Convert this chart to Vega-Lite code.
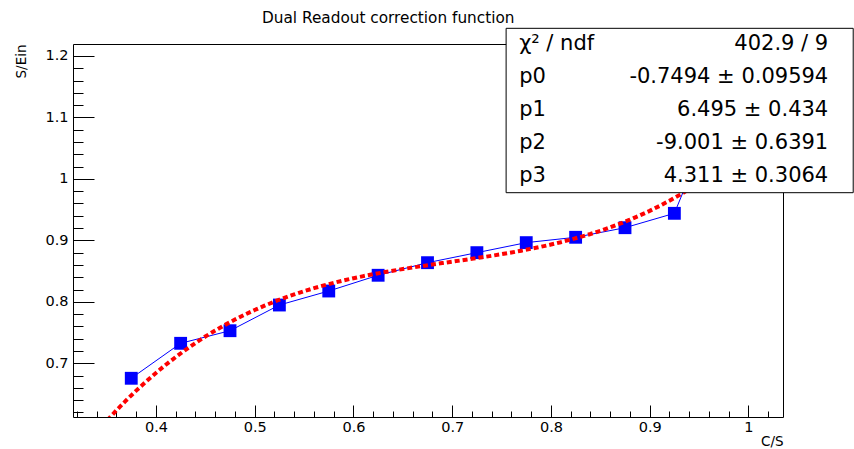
{
  "$schema": "https://vega.github.io/schema/vega-lite/v6.json",
  "width": 710,
  "height": 373,
  "autosize": "none",
  "padding": {"left": 73, "top": 44, "right": 71, "bottom": 32},
  "background": "white",
  "title": {
    "text": "Dual Readout correction function",
    "anchor": "start",
    "frame": "group",
    "dx": 189,
    "dy": 16,
    "offset": 6,
    "baseline": "alphabetic",
    "font": "DejaVu Sans",
    "fontSize": 15.3,
    "fontWeight": "normal",
    "color": "#000"
  },
  "config": {
    "view": {"stroke": "#000", "strokeWidth": 1},
    "font": "DejaVu Sans",
    "axis": {
      "grid": false,
      "domain": false,
      "tickColor": "#000",
      "tickWidth": 1,
      "labelColor": "#000",
      "titleColor": "#000",
      "labelFont": "DejaVu Sans",
      "titleFont": "DejaVu Sans",
      "labelFontSize": 14.5,
      "titleFontSize": 13.5,
      "titleFontWeight": "normal"
    }
  },
  "datasets": {
    "points": [
      {"cs": 0.375, "sein": 0.6756},
      {"cs": 0.425, "sein": 0.7325},
      {"cs": 0.475, "sein": 0.7530},
      {"cs": 0.525, "sein": 0.7948},
      {"cs": 0.575, "sein": 0.8176},
      {"cs": 0.625, "sein": 0.8432},
      {"cs": 0.675, "sein": 0.8637},
      {"cs": 0.725, "sein": 0.8800},
      {"cs": 0.775, "sein": 0.8963},
      {"cs": 0.825, "sein": 0.9050},
      {"cs": 0.875, "sein": 0.9206},
      {"cs": 0.925, "sein": 0.9440},
      {"cs": 0.975, "sein": 1.14}
    ],
    "fit": [
      {"cs": 0.34, "sein": 0.5878},
      {"cs": 0.35, "sein": 0.6061},
      {"cs": 0.36, "sein": 0.6234},
      {"cs": 0.37, "sein": 0.6399},
      {"cs": 0.38, "sein": 0.6555},
      {"cs": 0.39, "sein": 0.6703},
      {"cs": 0.40, "sein": 0.6843},
      {"cs": 0.41, "sein": 0.6976},
      {"cs": 0.42, "sein": 0.7101},
      {"cs": 0.43, "sein": 0.7219},
      {"cs": 0.44, "sein": 0.7330},
      {"cs": 0.45, "sein": 0.7435},
      {"cs": 0.46, "sein": 0.7533},
      {"cs": 0.47, "sein": 0.7625},
      {"cs": 0.48, "sein": 0.7711},
      {"cs": 0.49, "sein": 0.7792},
      {"cs": 0.50, "sein": 0.7867},
      {"cs": 0.51, "sein": 0.7937},
      {"cs": 0.52, "sein": 0.8003},
      {"cs": 0.53, "sein": 0.8064},
      {"cs": 0.54, "sein": 0.8120},
      {"cs": 0.55, "sein": 0.8173},
      {"cs": 0.56, "sein": 0.8222},
      {"cs": 0.57, "sein": 0.8267},
      {"cs": 0.58, "sein": 0.8309},
      {"cs": 0.59, "sein": 0.8348},
      {"cs": 0.60, "sein": 0.8384},
      {"cs": 0.61, "sein": 0.8418},
      {"cs": 0.62, "sein": 0.8449},
      {"cs": 0.63, "sein": 0.8479},
      {"cs": 0.64, "sein": 0.8507},
      {"cs": 0.65, "sein": 0.8533},
      {"cs": 0.66, "sein": 0.8559},
      {"cs": 0.67, "sein": 0.8583},
      {"cs": 0.68, "sein": 0.8607},
      {"cs": 0.69, "sein": 0.8630},
      {"cs": 0.70, "sein": 0.8653},
      {"cs": 0.71, "sein": 0.8676},
      {"cs": 0.72, "sein": 0.8700},
      {"cs": 0.73, "sein": 0.8724},
      {"cs": 0.74, "sein": 0.8749},
      {"cs": 0.75, "sein": 0.8775},
      {"cs": 0.76, "sein": 0.8802},
      {"cs": 0.77, "sein": 0.8832},
      {"cs": 0.78, "sein": 0.8863},
      {"cs": 0.79, "sein": 0.8896},
      {"cs": 0.80, "sein": 0.8932},
      {"cs": 0.81, "sein": 0.8970},
      {"cs": 0.82, "sein": 0.9012},
      {"cs": 0.83, "sein": 0.9056},
      {"cs": 0.84, "sein": 0.9104},
      {"cs": 0.85, "sein": 0.9156},
      {"cs": 0.86, "sein": 0.9212},
      {"cs": 0.87, "sein": 0.9272},
      {"cs": 0.88, "sein": 0.9337},
      {"cs": 0.89, "sein": 0.9406},
      {"cs": 0.90, "sein": 0.9480},
      {"cs": 0.91, "sein": 0.9560},
      {"cs": 0.92, "sein": 0.9645},
      {"cs": 0.93, "sein": 0.9736},
      {"cs": 0.94, "sein": 0.9833},
      {"cs": 0.95, "sein": 0.9936},
      {"cs": 0.96, "sein": 1.0046}
    ],
    "stats": [
      {"param": "χ² / ndf", "value": "402.9 / 9"},
      {"param": "p0", "value": "-0.7494  ± 0.09594"},
      {"param": "p1", "value": "6.495 ± 0.434"},
      {"param": "p2", "value": "-9.001 ± 0.6391"},
      {"param": "p3", "value": "4.311 ± 0.3064"}
    ]
  },
  "layer": [
    {
      "data": {"name": "points"},
      "mark": {"type": "line", "color": "#0000ff", "strokeWidth": 1, "clip": true},
      "encoding": {
        "x": {
          "field": "cs", "type": "quantitative",
          "scale": {"domain": [0.316, 1.035], "nice": false, "zero": false},
          "axis": {
            "orient": "bottom", "values": [0.4, 0.5, 0.6, 0.7, 0.8, 0.9, 1.0],
            "format": "~g", "ticks": false, "labelPadding": 3,
            "title": "C/S", "titleAnchor": "end", "titlePadding": 1
          }
        },
        "y": {
          "field": "sein", "type": "quantitative",
          "scale": {"domain": [0.6126, 1.2195], "nice": false, "zero": false},
          "axis": {
            "orient": "left", "values": [0.7, 0.8, 0.9, 1.0, 1.1, 1.2],
            "format": "~g", "ticks": false, "labelPadding": 5,
            "title": "S/Ein", "titleAnchor": "end", "titlePadding": 16
          }
        }
      }
    },
    {
      "data": {"name": "points"},
      "mark": {"type": "square", "color": "#0000ff", "filled": true, "opacity": 1, "size": 165, "clip": true},
      "encoding": {
        "x": {
          "field": "cs", "type": "quantitative",
          "scale": {"domain": [0.316, 1.035], "nice": false, "zero": false},
          "axis": {
            "orient": "bottom", "values": [0.4, 0.5, 0.6, 0.7, 0.8, 0.9, 1.0],
            "labels": false, "tickSize": -12, "title": null
          }
        },
        "y": {
          "field": "sein", "type": "quantitative",
          "scale": {"domain": [0.6126, 1.2195], "nice": false, "zero": false},
          "axis": {
            "orient": "left", "values": [0.7, 0.8, 0.9, 1.0, 1.1, 1.2],
            "labels": false, "tickSize": -21, "title": null
          }
        }
      }
    },
    {
      "data": {"name": "fit"},
      "mark": {"type": "line", "color": "#ff0000", "strokeWidth": 4, "strokeDash": [5, 3], "clip": true},
      "encoding": {
        "x": {
          "field": "cs", "type": "quantitative",
          "scale": {"domain": [0.316, 1.035], "nice": false, "zero": false},
          "axis": {
            "orient": "bottom",
            "values": [0.32, 0.34, 0.36, 0.38, 0.42, 0.44, 0.46, 0.48, 0.52, 0.54, 0.56, 0.58, 0.62, 0.64, 0.66, 0.68, 0.72, 0.74, 0.76, 0.78, 0.82, 0.84, 0.86, 0.88, 0.92, 0.94, 0.96, 0.98, 1.02],
            "labels": false, "tickSize": -6, "title": null
          }
        },
        "y": {
          "field": "sein", "type": "quantitative",
          "scale": {"domain": [0.6126, 1.2195], "nice": false, "zero": false},
          "axis": {
            "orient": "left",
            "values": [0.62, 0.64, 0.66, 0.68, 0.72, 0.74, 0.76, 0.78, 0.82, 0.84, 0.86, 0.88, 0.92, 0.94, 0.96, 0.98, 1.02, 1.04, 1.06, 1.08, 1.12, 1.14, 1.16, 1.18],
            "labels": false, "tickSize": -10, "title": null
          }
        }
      }
    },
    {
      "data": {"values": [{}]},
      "mark": {"type": "rect", "fill": "#ffffff", "stroke": "#000", "strokeWidth": 1, "clip": false},
      "encoding": {
        "x": {"datum": 0.7546, "type": "quantitative", "scale": {"domain": [0.316, 1.035], "nice": false, "zero": false}, "axis": null},
        "x2": {"datum": 1.1061},
        "y": {"datum": 1.2450, "type": "quantitative", "scale": {"domain": [0.6126, 1.2195], "nice": false, "zero": false}, "axis": null},
        "y2": {"datum": 0.97755}
      }
    },
    {
      "data": {"name": "stats"},
      "mark": {"type": "text", "align": "left", "baseline": "middle", "font": "DejaVu Sans", "fontSize": 21, "color": "#000", "clip": false},
      "encoding": {
        "x": {"datum": 0.7678, "type": "quantitative", "scale": {"domain": [0.316, 1.035], "nice": false, "zero": false}, "axis": null},
        "y": {"field": "param", "type": "nominal", "sort": null, "scale": {"type": "point", "domain": ["χ² / ndf", "p0", "p1", "p2", "p3"], "range": [0, 132], "padding": 0}, "axis": null},
        "text": {"field": "param"}
      }
    },
    {
      "data": {"name": "stats"},
      "mark": {"type": "text", "align": "right", "baseline": "middle", "font": "DejaVu Sans", "fontSize": 21, "color": "#000", "clip": false},
      "encoding": {
        "x": {"datum": 1.0808, "type": "quantitative", "scale": {"domain": [0.316, 1.035], "nice": false, "zero": false}, "axis": null},
        "y": {"field": "param", "type": "nominal", "sort": null, "scale": {"type": "point", "domain": ["χ² / ndf", "p0", "p1", "p2", "p3"], "range": [0, 132], "padding": 0}, "axis": null},
        "text": {"field": "value"}
      }
    }
  ],
  "resolve": {"scale": {"y": "independent"}, "axis": {"x": "independent", "y": "independent"}}
}
